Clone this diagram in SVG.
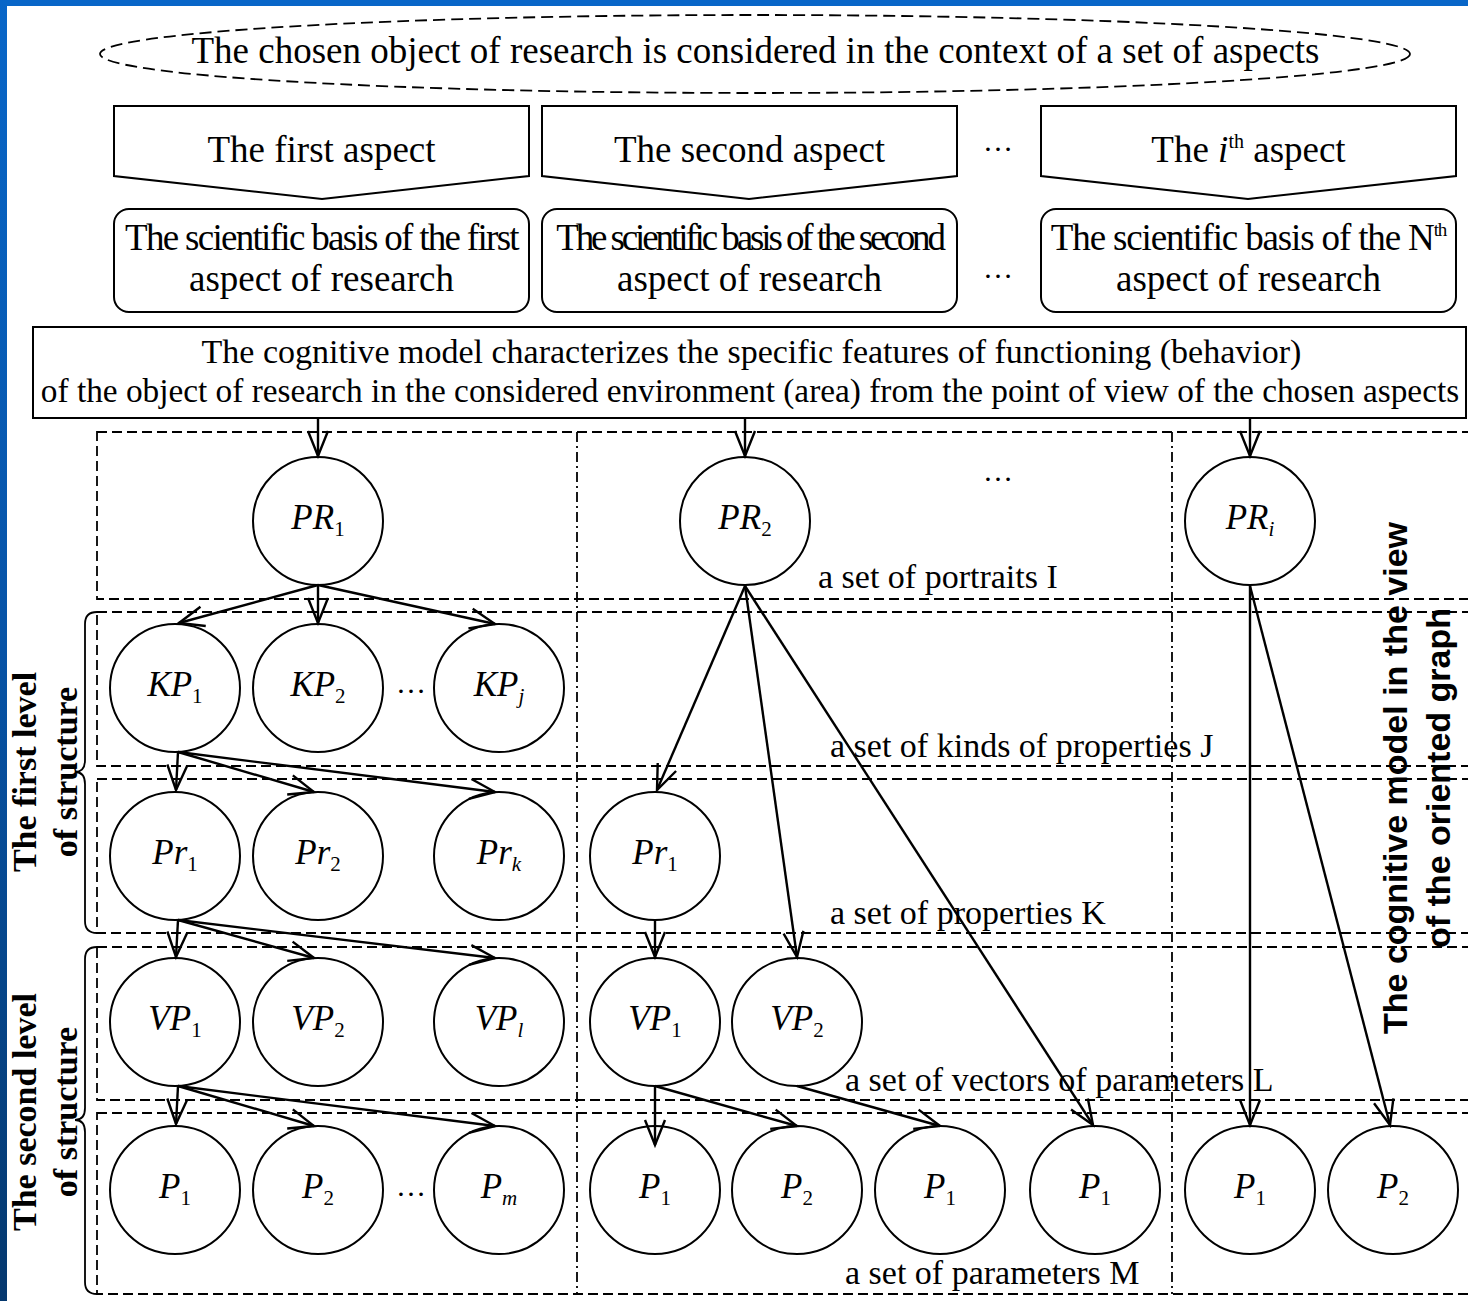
<svg xmlns="http://www.w3.org/2000/svg" width="1468" height="1301" viewBox="0 0 1468 1301">
<defs>
<linearGradient id="side" x1="0" y1="0" x2="0" y2="1">
<stop offset="0" stop-color="#0866c8"/>
<stop offset="0.5" stop-color="#0753a6"/>
<stop offset="1" stop-color="#05386e"/>
</linearGradient>
<marker id="arr" markerUnits="userSpaceOnUse" markerWidth="30" markerHeight="30" viewBox="-28 -15 30 30" refX="0" refY="0" orient="auto" overflow="visible">
<path d="M-25,-10 L0,0 L-25,10" fill="none" stroke="#000" stroke-width="2.4"/>
</marker>
<style>
.t37{font-family:"Liberation Serif",serif;font-size:37px;text-anchor:middle;fill:#000}
.t34{font-family:"Liberation Serif",serif;font-size:34px;fill:#000}
.lbl{font-family:"Liberation Serif",serif;font-size:35px;font-style:italic;text-anchor:middle;fill:#000}
.sub{font-size:21px;font-style:normal}
.subi{font-size:21px;font-style:italic}
.node ellipse{fill:#fff;stroke:#000;stroke-width:2}
.box{fill:#fff;stroke:#000;stroke-width:2}
.edge{stroke:#000;stroke-width:2.4;fill:none;marker-end:url(#arr)}
.row{fill:none;stroke:#000;stroke-width:1.8;stroke-dasharray:10 5}
.col{stroke:#000;stroke-width:1.8;stroke-dasharray:10 4 2 4}
.brace{fill:none;stroke:#000;stroke-width:1.8}
.lev{font-family:"Liberation Serif",serif;font-size:34px;font-weight:bold;text-anchor:middle;fill:#000}
.side{font-family:"Liberation Sans",Arial,sans-serif;font-size:34px;font-weight:bold;text-anchor:middle;fill:#000}
.dots{font-family:"Liberation Serif",serif;font-size:30px;text-anchor:middle;fill:#000}
</style>
</defs>
<rect x="0" y="0" width="1468" height="1301" fill="#fff"/>
<rect x="0" y="0" width="1468" height="6" fill="#0866c8"/>
<rect x="0" y="0" width="7" height="1301" fill="url(#side)"/>

<!-- grid -->
<g id="grid">
<rect class="row" x="97" y="432" width="1390" height="167"/>
<rect class="row" x="97" y="612" width="1390" height="154"/>
<rect class="row" x="97" y="779" width="1390" height="154"/>
<rect class="row" x="97" y="947" width="1390" height="153"/>
<rect class="row" x="97" y="1113" width="1390" height="181"/>
<line class="col" x1="577" y1="432" x2="577" y2="1294"/>
<line class="col" x1="1172" y1="432" x2="1172" y2="1294"/>
<path class="brace" d="M97,612 Q85,612 85,624 L85,760 Q85,772 75,772 Q85,772 85,784 L85,921 Q85,933 97,933"/>
<path class="brace" d="M97,947 Q85,947 85,959 L85,1108 Q85,1120 75,1120 Q85,1120 85,1132 L85,1282 Q85,1294 97,1294"/>
</g>

<!-- side labels -->
<g id="labels-left">
<text class="lev" transform="translate(36,772) rotate(-90)">The first level</text>
<text class="lev" transform="translate(77,772) rotate(-90)">of structure</text>
<text class="lev" transform="translate(36,1112) rotate(-90)">The second level</text>
<text class="lev" transform="translate(77,1112) rotate(-90)">of structure</text>
</g>
<g id="labels-right">
<text class="side" transform="translate(1407,778) rotate(-90)">The cognitive model in the view</text>
<text class="side" transform="translate(1450,778) rotate(-90)">of the oriented graph</text>
</g>

<!-- set labels -->
<g id="set-labels">
<text class="t34" x="818" y="588">a set of portraits I</text>
<text class="t34" x="830" y="757">a set of kinds of properties J</text>
<text class="t34" x="830" y="924">a set of properties K</text>
<text class="t34" x="845" y="1091">a set of vectors of parameters L</text>
<text class="t34" x="845" y="1284">a set of parameters M</text>
</g>

<!-- top -->
<g id="context">
<ellipse cx="755" cy="54" rx="655" ry="39" fill="#fff" stroke="#000" stroke-width="1.8" stroke-dasharray="12 6"/>
<text class="t37" x="755.5" y="63">The chosen object of research is considered in the context of a set of aspects</text>
</g>
<g id="aspect1">
<polygon class="box" points="114,106 529,106 529,176 322,199 114,176"/>
<text class="t37" x="321.5" y="162">The first aspect</text>
</g>
<g id="aspect2">
<polygon class="box" points="542,106 957,106 957,176 749,199 542,176"/>
<text class="t37" x="749.5" y="162">The second aspect</text>
</g>
<g id="aspect-i">
<polygon class="box" points="1041,106 1456,106 1456,176 1248,199 1041,176"/>
<text class="t37" x="1248.5" y="162">The <tspan font-style="italic">i</tspan><tspan font-size="20" dy="-14">th</tspan><tspan dy="14"> aspect</tspan></text>
</g>
<g id="basis1">
<rect class="box" x="114" y="209" width="415" height="103" rx="15"/>
<text class="t37" x="321.5" y="250" letter-spacing="-1.7">The scientific basis of the first</text>
<text class="t37" x="321.5" y="291">aspect of research</text>
</g>
<g id="basis2">
<rect class="box" x="542" y="209" width="415" height="103" rx="15"/>
<text class="t37" x="749.5" y="250" letter-spacing="-3.1">The scientific basis of the second</text>
<text class="t37" x="749.5" y="291">aspect of research</text>
</g>
<g id="basisN">
<rect class="box" x="1041" y="209" width="415" height="103" rx="15"/>
<text class="t37" x="1248.5" y="250" letter-spacing="-1.15">The scientific basis of the N<tspan font-size="19" dy="-14">th</tspan></text>
<text class="t37" x="1248.5" y="291">aspect of research</text>
</g>
<g id="dots-top">
<text class="dots" x="998" y="151">…</text>
<text class="dots" x="998" y="278">…</text>
<text class="dots" x="998" y="481">…</text>
<text class="dots" x="411" y="693">…</text>
<text class="dots" x="411" y="1196">…</text>
</g>
<g id="model">
<rect class="box" x="33" y="327" width="1433" height="91"/>
<text class="t37" style="font-size:34px" x="751.5" y="363">The cognitive model characterizes the specific features of functioning (behavior)</text>
<text class="t37" style="font-size:33.3px" x="750" y="402">of the object of research in the considered environment (area) from the point of view of the chosen aspects</text>
</g>

<!-- nodes -->
<g id="PR1" class="node"><ellipse cx="318" cy="521" rx="65" ry="64"/><text class="lbl" x="318" y="529">PR<tspan class="sub" dy="7">1</tspan></text></g>
<g id="PR2" class="node"><ellipse cx="745" cy="521" rx="65" ry="64"/><text class="lbl" x="745" y="529">PR<tspan class="sub" dy="7">2</tspan></text></g>
<g id="PRi" class="node"><ellipse cx="1250" cy="521" rx="65" ry="64"/><text class="lbl" x="1250" y="529">PR<tspan class="subi" dy="7">i</tspan></text></g>

<g id="KP1" class="node"><ellipse cx="175" cy="688" rx="65" ry="64"/><text class="lbl" x="175" y="696">KP<tspan class="sub" dy="7">1</tspan></text></g>
<g id="KP2" class="node"><ellipse cx="318" cy="688" rx="65" ry="64"/><text class="lbl" x="318" y="696">KP<tspan class="sub" dy="7">2</tspan></text></g>
<g id="KPj" class="node"><ellipse cx="499" cy="688" rx="65" ry="64"/><text class="lbl" x="499" y="696">KP<tspan class="subi" dy="7">j</tspan></text></g>

<g id="Pr1" class="node"><ellipse cx="175" cy="856" rx="65" ry="64"/><text class="lbl" x="175" y="864">Pr<tspan class="sub" dy="7">1</tspan></text></g>
<g id="Pr2" class="node"><ellipse cx="318" cy="856" rx="65" ry="64"/><text class="lbl" x="318" y="864">Pr<tspan class="sub" dy="7">2</tspan></text></g>
<g id="Prk" class="node"><ellipse cx="499" cy="856" rx="65" ry="64"/><text class="lbl" x="499" y="864">Pr<tspan class="subi" dy="7">k</tspan></text></g>
<g id="Pr1-b" class="node"><ellipse cx="655" cy="856" rx="65" ry="64"/><text class="lbl" x="655" y="864">Pr<tspan class="sub" dy="7">1</tspan></text></g>

<g id="VP1" class="node"><ellipse cx="175" cy="1022" rx="65" ry="64"/><text class="lbl" x="175" y="1030">VP<tspan class="sub" dy="7">1</tspan></text></g>
<g id="VP2" class="node"><ellipse cx="318" cy="1022" rx="65" ry="64"/><text class="lbl" x="318" y="1030">VP<tspan class="sub" dy="7">2</tspan></text></g>
<g id="VPl" class="node"><ellipse cx="499" cy="1022" rx="65" ry="64"/><text class="lbl" x="499" y="1030">VP<tspan class="subi" dy="7">l</tspan></text></g>
<g id="VP1-b" class="node"><ellipse cx="655" cy="1022" rx="65" ry="64"/><text class="lbl" x="655" y="1030">VP<tspan class="sub" dy="7">1</tspan></text></g>
<g id="VP2-b" class="node"><ellipse cx="797" cy="1022" rx="65" ry="64"/><text class="lbl" x="797" y="1030">VP<tspan class="sub" dy="7">2</tspan></text></g>

<g id="P1" class="node"><ellipse cx="175" cy="1190" rx="65" ry="64"/><text class="lbl" x="175" y="1198">P<tspan class="sub" dy="7">1</tspan></text></g>
<g id="P2" class="node"><ellipse cx="318" cy="1190" rx="65" ry="64"/><text class="lbl" x="318" y="1198">P<tspan class="sub" dy="7">2</tspan></text></g>
<g id="Pm" class="node"><ellipse cx="499" cy="1190" rx="65" ry="64"/><text class="lbl" x="499" y="1198">P<tspan class="subi" dy="7">m</tspan></text></g>
<g id="P1-b" class="node"><ellipse cx="655" cy="1190" rx="65" ry="64"/><text class="lbl" x="655" y="1198">P<tspan class="sub" dy="7">1</tspan></text></g>
<g id="P2-b" class="node"><ellipse cx="797" cy="1190" rx="65" ry="64"/><text class="lbl" x="797" y="1198">P<tspan class="sub" dy="7">2</tspan></text></g>
<g id="P1-c" class="node"><ellipse cx="940" cy="1190" rx="65" ry="64"/><text class="lbl" x="940" y="1198">P<tspan class="sub" dy="7">1</tspan></text></g>
<g id="P1-d" class="node"><ellipse cx="1095" cy="1190" rx="65" ry="64"/><text class="lbl" x="1095" y="1198">P<tspan class="sub" dy="7">1</tspan></text></g>
<g id="P1-e" class="node"><ellipse cx="1250" cy="1190" rx="65" ry="64"/><text class="lbl" x="1250" y="1198">P<tspan class="sub" dy="7">1</tspan></text></g>
<g id="P2-e" class="node"><ellipse cx="1393" cy="1190" rx="65" ry="64"/><text class="lbl" x="1393" y="1198">P<tspan class="sub" dy="7">2</tspan></text></g>

<!-- connectors -->
<g id="connectors">
<line class="edge" x1="318" y1="418" x2="318" y2="456"/>
<line class="edge" x1="745" y1="418" x2="745" y2="456"/>
<line class="edge" x1="1250" y1="418" x2="1250" y2="456"/>

<line class="edge" x1="318" y1="585" x2="179" y2="623"/>
<line class="edge" x1="318" y1="585" x2="318" y2="623"/>
<line class="edge" x1="318" y1="585" x2="495" y2="624"/>

<line class="edge" x1="178" y1="752" x2="176" y2="790"/>
<line class="edge" x1="178" y1="752" x2="314" y2="792"/>
<line class="edge" x1="178" y1="752" x2="495" y2="792"/>

<line class="edge" x1="178" y1="920" x2="176" y2="957"/>
<line class="edge" x1="178" y1="920" x2="314" y2="958"/>
<line class="edge" x1="178" y1="920" x2="495" y2="958"/>

<line class="edge" x1="178" y1="1086" x2="176" y2="1124"/>
<line class="edge" x1="178" y1="1086" x2="314" y2="1126"/>
<line class="edge" x1="178" y1="1086" x2="495" y2="1126"/>

<line class="edge" x1="745" y1="586" x2="657" y2="790"/>
<line class="edge" x1="745" y1="586" x2="797" y2="957"/>
<line class="edge" x1="745" y1="586" x2="1093" y2="1125"/>

<line class="edge" x1="655" y1="920" x2="655" y2="957"/>
<line class="edge" x1="655" y1="1086" x2="655" y2="1145"/>
<line class="edge" x1="655" y1="1086" x2="797" y2="1126"/>
<line class="edge" x1="797" y1="1086" x2="940" y2="1126"/>

<line class="edge" x1="1250" y1="586" x2="1250" y2="1125"/>
<line class="edge" x1="1250" y1="586" x2="1390" y2="1125"/>
</g>
</svg>
